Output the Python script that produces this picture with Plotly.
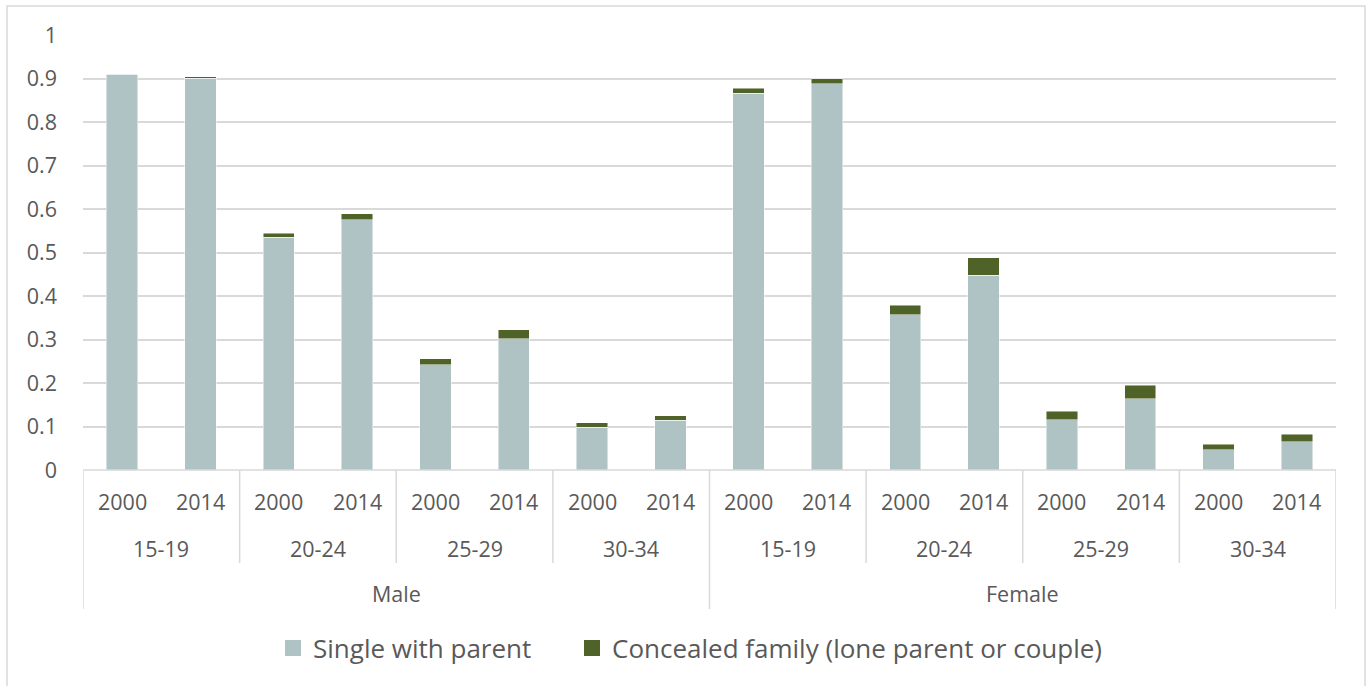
import plotly.graph_objects as go

sexes = ["Male", "Female"]
age_groups = ["15-19", "20-24", "25-29", "30-34"]
years = ["2000", "2014"]

# order: Male 15-19 2000, 2014, 20-24 2000, 2014, ... Female ...
single_with_parent = [0.910, 0.901, 0.535, 0.575, 0.242, 0.302, 0.098, 0.114,
                      0.866, 0.888, 0.357, 0.448, 0.116, 0.164, 0.046, 0.065]
concealed_family = [0.001, 0.003, 0.009, 0.014, 0.014, 0.020, 0.011, 0.011,
                    0.012, 0.012, 0.022, 0.040, 0.019, 0.031, 0.013, 0.017]
series_names = ["Single with parent", "Concealed family (lone parent or couple)"]

GRAY = "#AFC2C4"
GREEN = "#4F6228"
TXT = "#595959"
LINE = "#D9D9D9"
FONT = "Open Sans"

n = len(single_with_parent)
xs = list(range(n))

fig = go.Figure()
for vals, name, col in [(single_with_parent, series_names[0], GRAY),
                        (concealed_family, series_names[1], GREEN)]:
    fig.add_trace(go.Bar(x=xs, y=vals, name=name, showlegend=False,
                         marker=dict(color=col, line=dict(color="rgba(255,255,255,0.6)", width=0.8)),
                         width=0.4))
# legend entries with larger square swatches
for name, col, lw in [(series_names[0], GRAY, 254), (series_names[1], GREEN, 520)]:
    fig.add_trace(go.Scatter(x=[None], y=[None], mode="markers", name=name, legendwidth=lw,
                             marker=dict(symbol="square", size=16, color=col, line=dict(width=0))))

W, H = 1368, 686
ml, mr, mt, mb = 83, 32, 35, 216
ph = H - mt - mb
pw = W - ml - mr


def py(pix):
    return (H - mb - pix) / ph


def px(pix):
    return (pix - ml) / pw


shapes = []
shapes.append(dict(type="rect", xref="paper", yref="paper",
                   x0=px(7), x1=px(1365), y0=py(700), y1=py(6),
                   line=dict(color=LINE, width=1.5), fillcolor="rgba(0,0,0,0)", layer="below"))
shapes.append(dict(type="line", xref="x", yref="paper", x0=-0.5, x1=n - 0.5, y0=0, y1=0,
                   line=dict(color=LINE, width=1.5)))
for xv in [-0.5, 7.5, n - 0.5]:
    shapes.append(dict(type="line", xref="x", yref="paper", x0=xv, x1=xv, y0=0, y1=py(609),
                       line=dict(color=LINE, width=1.5)))
for xv in [1.5, 3.5, 5.5, 9.5, 11.5, 13.5]:
    shapes.append(dict(type="line", xref="x", yref="paper", x0=xv, x1=xv, y0=0, y1=py(563),
                       line=dict(color=LINE, width=1.5)))

LBL = 21.5
annotations = []
i = 0
for s_i, s in enumerate(sexes):
    for a_i, a in enumerate(age_groups):
        for y in years:
            annotations.append(dict(x=i, y=py(501), xref="x", yref="paper", text=y,
                                    showarrow=False, yanchor="middle", xanchor="center",
                                    font=dict(family=FONT, size=LBL, color=TXT)))
            i += 1
        annotations.append(dict(x=s_i * 8 + a_i * 2 + 0.5, y=py(548), xref="x", yref="paper", text=a,
                                showarrow=False, yanchor="middle", xanchor="center",
                                font=dict(family=FONT, size=LBL, color=TXT)))
    annotations.append(dict(x=s_i * 8 + 3.5, y=py(593), xref="x", yref="paper", text=s,
                            showarrow=False, yanchor="middle", xanchor="center",
                            font=dict(family=FONT, size=LBL, color=TXT)))

fig.update_layout(
    width=W, height=H,
    margin=dict(l=ml, r=mr, t=mt, b=mb),
    barmode="stack",
    plot_bgcolor="white", paper_bgcolor="white",
    font=dict(family=FONT, color=TXT),
    xaxis=dict(range=[-0.5, n - 0.5], showticklabels=False, showgrid=False, zeroline=False,
               showline=False, fixedrange=True),
    yaxis=dict(range=[0, 1], dtick=0.1, showgrid=True, gridcolor=LINE, gridwidth=1.5,
               zeroline=False, showline=False, ticks="", ticklabelstandoff=25,
               tickfont=dict(family=FONT, size=LBL, color=TXT)),
    showlegend=True,
    legend=dict(orientation="h", x=px(273), xanchor="left", y=py(648), yanchor="middle",
                font=dict(family=FONT, size=26, color=TXT), traceorder="normal",
                bgcolor="rgba(0,0,0,0)"),
    shapes=shapes,
    annotations=annotations,
    bargap=0.6,
)

fig.write_html("out.html")
